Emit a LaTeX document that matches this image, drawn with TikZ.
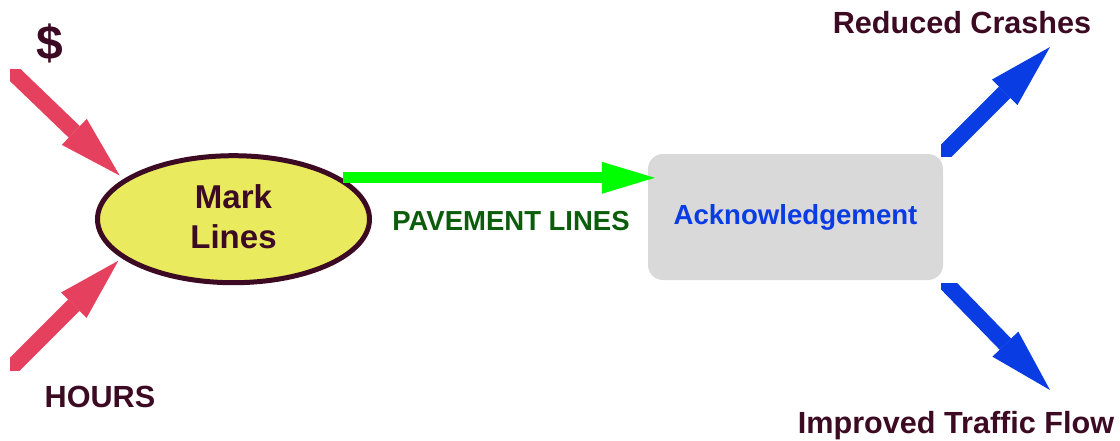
\documentclass[tikz,border=0pt]{standalone}
\usepackage{fontspec}
\setmainfont{Liberation Sans}[Ligatures=CommonOff]
\usetikzlibrary{arrows.meta,shapes.geometric}
\definecolor{mroon}{HTML}{3C0A22}
\definecolor{ylw}{HTML}{E9EA5E}
\definecolor{arrred}{HTML}{E5415F}
\definecolor{arrgreen}{HTML}{00FF00}
\definecolor{txtgreen}{HTML}{0B5C0B}
\definecolor{arrblue}{HTML}{0A3CE4}
\definecolor{boxgray}{HTML}{D9D9D9}
\begin{document}
\begin{tikzpicture}[x=1pt,y=-1pt,
  lbl/.style={font=\bfseries\fontsize{30.6pt}{36pt}\selectfont, text=mroon, inner sep=0pt, anchor=base},
  redarr/.style={draw=arrred, line width=16pt, -{Triangle[length=63pt,width=36pt,line width=0pt]}},
  bluearr/.style={draw=arrblue, line width=16pt, -{Triangle[length=64pt,width=36pt,line width=0pt]}},
  greenarr/.style={draw=arrgreen, line width=11pt, -{Triangle[length=53pt,width=32pt,line width=0pt]}},
  markbox/.style={ellipse, draw=mroon, line width=5pt, fill=ylw, minimum width=272pt, minimum height=127pt, inner sep=0pt, align=center, text=mroon, font=\bfseries\fontsize{33pt}{40pt}\selectfont},
  ackbox/.style={rectangle, rounded corners=15pt, fill=boxgray, minimum width=295pt, minimum height=126pt, inner sep=0pt, text=arrblue, font=\bfseries\fontsize{27.6pt}{33pt}\selectfont}
]
\useasboundingbox (0,0) rectangle (1120,440);

\node[markbox] (mark) at (233.5,219.2) {Mark\\Lines\rule[-5.6pt]{0pt}{1pt}};
\node[ackbox] (ack) at (795.5,217) {Acknowledgement};

\node[lbl, font=\bfseries\fontsize{48pt}{50pt}\selectfont] (dollar) at (49.5,59) {\$};
\node[lbl] (hours) at (100,407) {HOURS};
\node[lbl] (crashes) at (962,33) {Reduced Crashes};
\node[lbl] (flow) at (956,433) {Improved Traffic Flow};
\node[lbl, text=txtgreen, font=\bfseries\fontsize{27.5pt}{33pt}\selectfont] (pave) at (511,230) {PAVEMENT LINES};

\coordinate (din) at (10,70);
\coordinate (hin) at (10,369);
\coordinate (rctip) at (1050,47);
\coordinate (fltip) at (1050,390);

\begin{scope}
  \clip (10,69) rectangle (400,440);
  \draw[redarr, shorten <=-30pt, shorten >=5.2pt] (din) -- (mark.160.33);
\end{scope}
\begin{scope}
  \clip (10,0) rectangle (400,370);
  \draw[redarr, shorten <=-30pt, shorten >=4pt] (hin) -- (mark.199.25);
\end{scope}
\begin{scope}
  \clip (941,0) rectangle (1120,156);
  \draw[bluearr, shorten <=-30pt] (ack.north east) -- (rctip);
\end{scope}
\begin{scope}
  \clip (941,283) rectangle (1120,440);
  \draw[bluearr, shorten <=-30pt] (ack.south east) -- (fltip);
\end{scope}

\draw[greenarr, shorten <=2pt, shorten >=-7pt] (mark.21.6) -- (mark.21.6 -| ack.west);
\end{tikzpicture}
\end{document}
